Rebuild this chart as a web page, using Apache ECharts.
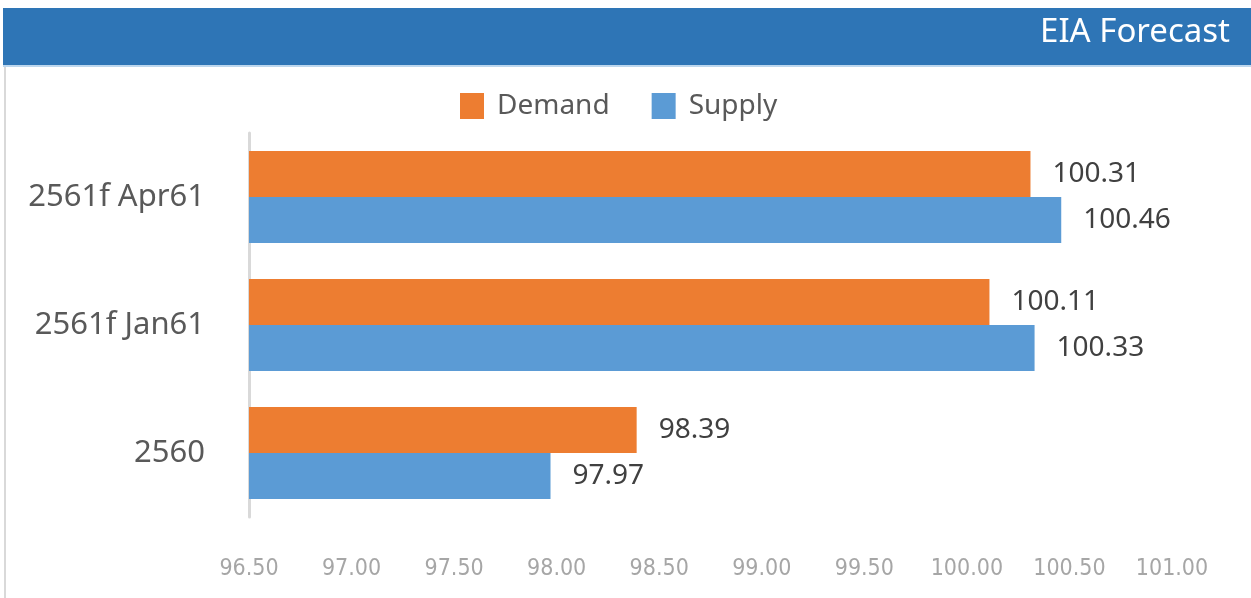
<!DOCTYPE html>
<html>
<head>
<meta charset="utf-8">
<style>
  html, body { margin: 0; padding: 0; background: #ffffff; }
  #chart { width: 1251px; height: 598px; }
</style>
<script src="https://cdn.jsdelivr.net/npm/echarts@6/dist/echarts.min.js"></script>
</head>
<body>
<div id="chart"></div>
<script>
// Categories, bottom to top on the vertical axis
const categories = ['2560', '2561f Jan61', '2561f Apr61'];
// Series values (million barrels per day)
const demandValues = [98.39, 100.11, 100.31];
const supplyValues = [97.97, 100.33, 100.46];
const seriesNames = ['Demand', 'Supply'];
const titleText = 'EIA Forecast';

const textColor = '#595959';
const orange = '#ED7D31';
const blue = '#5B9BD5';

const chart = echarts.init(document.getElementById('chart'), null, { renderer: 'canvas' });

const labelStyle = {
  show: true,
  position: 'right',
  distance: 22,
  fontFamily: 'Noto Sans',
  fontSize: 28,
  color: '#404040',
  formatter: p => p.value.toFixed(2)
};

chart.setOption({
  animation: false,
  backgroundColor: '#ffffff',
  graphic: [
    // header band
    { type: 'rect', left: 3, top: 8, shape: { width: 1248, height: 57 }, style: { fill: '#2E75B6' }, z: 0 },
    { type: 'rect', left: 3, top: 65, shape: { width: 1248, height: 2 }, style: { fill: '#BDD7EE' }, z: 0 },
    // left frame edge
    { type: 'rect', left: 4, top: 67, shape: { width: 2, height: 531 }, style: { fill: '#D9D9D9' }, z: 0 },
    {
      type: 'text', right: 21, top: 16, z: 10,
      style: { text: titleText, fill: '#ffffff', font: '33px "Noto Sans"' }
    }
  ],
  legend: {
    data: seriesNames,
    top: 87,
    left: 455,
    itemWidth: 24,
    itemHeight: 26,
    itemGap: 42,
    icon: 'rect',
    textStyle: { fontFamily: 'Noto Sans', fontSize: 28, color: textColor, padding: [0, 0, 0, 8] }
  },
  grid: { left: 249, right: 79, top: 133, bottom: 81, containLabel: false },
  xAxis: {
    type: 'value',
    min: 96.5,
    max: 101,
    interval: 0.5,
    axisLine: { show: false },
    axisTick: { show: false },
    splitLine: { show: false },
    axisLabel: {
      margin: 41,
      fontFamily: '"DejaVu Sans Condensed", "Liberation Sans", sans-serif',
      fontSize: 23,
      color: '#A6A6A6',
      formatter: v => v.toFixed(2)
    }
  },
  yAxis: {
    type: 'category',
    data: categories,
    axisLine: { show: true, lineStyle: { color: '#D9D9D9', width: 3 } },
    axisTick: { show: false },
    axisLabel: { margin: 44, fontFamily: 'Noto Sans', fontSize: 31, color: textColor }
  },
  series: [
    {
      name: 'Demand', type: 'bar', data: demandValues,
      barGap: '0%', barCategoryGap: '28%',
      itemStyle: { color: orange },
      label: labelStyle
    },
    {
      name: 'Supply', type: 'bar', data: supplyValues,
      barGap: '0%', barCategoryGap: '28%',
      itemStyle: { color: blue },
      label: labelStyle
    }
  ]
});
</script>
</body>
</html>
